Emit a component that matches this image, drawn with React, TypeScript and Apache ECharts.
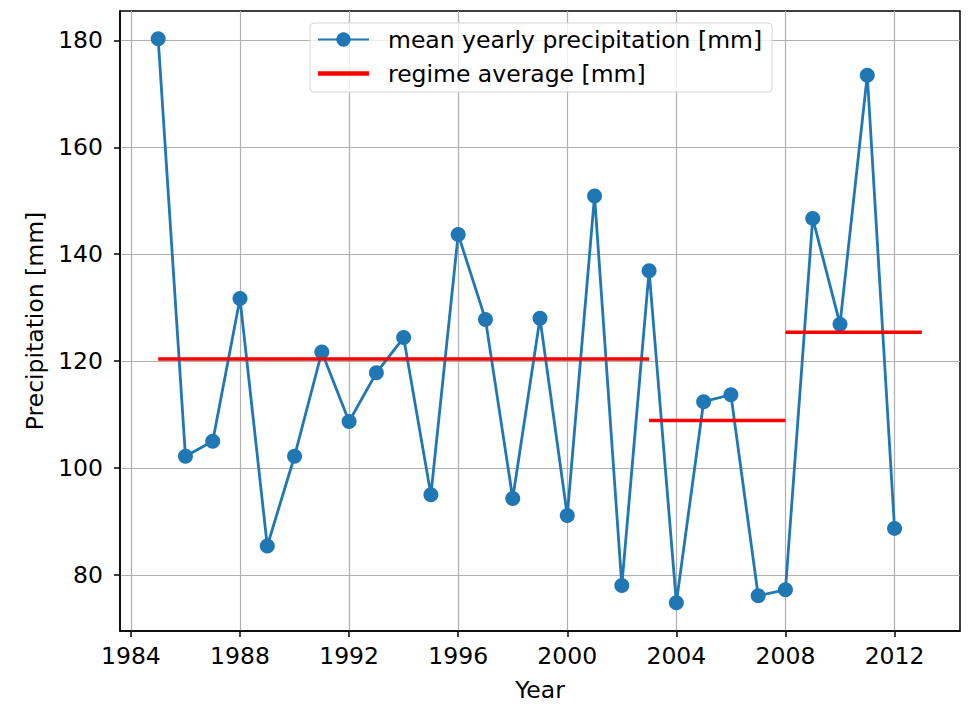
import React, { useEffect, useRef } from "react";
import * as echarts from "echarts";

const years = [1985, 1986, 1987, 1988, 1989, 1990, 1991, 1992, 1993, 1994, 1995, 1996, 1997, 1998, 1999, 2000, 2001, 2002, 2003, 2004, 2005, 2006, 2007, 2008, 2009, 2010, 2011, 2012];
const precipitation = [180.3, 102.2, 105.0, 131.7, 85.4, 102.2, 121.7, 108.7, 117.8, 124.4, 95.0, 143.7, 127.8, 94.3, 128.0, 91.1, 150.9, 78.0, 136.9, 74.8, 112.4, 113.7, 76.1, 77.2, 146.7, 126.9, 173.5, 88.7];
const regimeStarts = [1985, 2003, 2008];
const regimeEnds = [2003, 2008, 2013];
const regimeValues = [120.4, 108.9, 125.4];
const xTicks = [1984, 1988, 1992, 1996, 2000, 2004, 2008, 2012];
const yTicks = [80, 100, 120, 140, 160, 180];

const FONT = "DejaVu Sans";
const FS = 23.5;

export default function App() {
  const ref = useRef<HTMLDivElement>(null);
  useEffect(() => {
    if (!ref.current) return;
    const chart = echarts.init(ref.current, undefined, { renderer: "svg" });
    const precipName = "mean yearly precipitation [mm]";
    const regimeName = "regime average [mm]";
    const regimeSeries = regimeValues.map((v, i) => ({
      name: regimeName,
      type: "line",
      data: [
        [regimeStarts[i], v],
        [regimeEnds[i], v],
      ],
      showSymbol: false,
      symbol: "none",
      lineStyle: { color: "#ff0000", width: 3.5 },
      itemStyle: { color: "#ff0000" },
      z: 3,
    }));
    chart.setOption({
      animation: false,
      backgroundColor: "#ffffff",
      grid: {
        left: 120,
        top: 11,
        right: 12,
        bottom: 70,
        show: true,
        borderColor: "#000",
        borderWidth: 1.5,
        containLabel: false,
      },
      legend: {
        data: [
          { name: precipName },
          { name: regimeName, icon: "path://M0 0H53V4.5H0Z" },
        ],
        orient: "vertical",
        left: 310,
        top: 23,
        itemWidth: 51,
        itemHeight: 18,
        itemGap: 9,
        textStyle: { fontSize: FS, fontFamily: FONT, color: "#000", lineHeight: 25, padding: [0, 0, 0, 14] },
        borderColor: "#d6d6d6",
        borderWidth: 1,
        borderRadius: 4,
        padding: [4, 10, 6, 7],
        backgroundColor: "rgba(255,255,255,0.8)",
      },
      xAxis: {
        type: "value",
        min: 1983.6,
        max: 2014.4,
        name: "Year",
        nameLocation: "middle",
        nameGap: 47,
        nameTextStyle: { fontSize: FS, fontFamily: FONT, color: "#000" },
        axisLine: { show: true, lineStyle: { color: "#000", width: 1.5 } },
        axisTick: { show: true, customValues: xTicks, length: 6, lineStyle: { color: "#000", width: 1.5 } },
        axisLabel: {
          customValues: xTicks,
          fontSize: FS,
          fontFamily: FONT,
          color: "#000",
          margin: 13,
          formatter: (v: number) => String(v),
        },
        splitLine: { show: true, lineStyle: { color: "#b0b0b0", width: 1.2 } },
      },
      yAxis: {
        type: "value",
        min: 69.5,
        max: 185.5,
        name: "Precipitation [mm]",
        nameLocation: "middle",
        nameGap: 72,
        nameTextStyle: { fontSize: FS, fontFamily: FONT, color: "#000" },
        axisLine: { show: true, lineStyle: { color: "#000", width: 1.5 } },
        axisTick: { show: true, customValues: yTicks, length: 6, lineStyle: { color: "#000", width: 1.5 } },
        axisLabel: {
          customValues: yTicks,
          fontSize: FS,
          fontFamily: FONT,
          color: "#000",
          margin: 17,
          formatter: (v: number) => String(v),
        },
        splitLine: { show: true, lineStyle: { color: "#b0b0b0", width: 1.2 } },
      },
      series: [
        {
          name: precipName,
          type: "line",
          data: years.map((y, i) => [y, precipitation[i]]),
          symbol: "circle",
          symbolSize: 15,
          showSymbol: true,
          lineStyle: { color: "#1f77b4", width: 2.8 },
          itemStyle: { color: "#1f77b4" },
          z: 2,
        },
        ...regimeSeries,
      ],
    });
    return () => chart.dispose();
  }, []);
  return <div ref={ref} style={{ position: "fixed", left: 0, top: 0, width: 972, height: 707 }} />;
}
